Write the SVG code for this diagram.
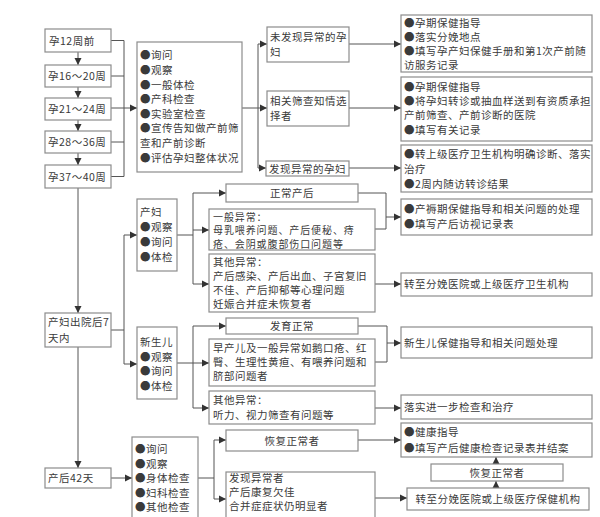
<svg xmlns="http://www.w3.org/2000/svg" width="600" height="517" viewBox="0 0 600 517">
<defs>
<marker id="ah" markerUnits="userSpaceOnUse" markerWidth="8" markerHeight="8" refX="7" refY="4" orient="auto">
<path d="M0,0.5 L7,4 L0,7.5 Z" fill="#333"/>
</marker>
<style>
.b{fill:#fff;stroke:#8c8c8c;stroke-width:1.2}
.t{font-family:"Noto Sans CJK SC","Noto Sans",sans-serif;font-size:10.5px;letter-spacing:0.5px;fill:#3a3a3a}
.s{font-size:10px;letter-spacing:0.9px}
.m{text-anchor:middle}
.c{fill:none;stroke:#555;stroke-width:1}
.a{fill:none;stroke:#555;stroke-width:1;marker-end:url(#ah)}
</style>
</defs>
<rect width="600" height="517" fill="#fff"/>

<g id="connectors">
<path class="a" d="M78,52 V65"/>
<path class="a" d="M78,87 V98"/>
<path class="a" d="M78,120 V131"/>
<path class="a" d="M78,153 V165"/>
<path class="a" d="M78,188 V313"/>
<path class="a" d="M78,347 V468"/>
<path class="c" d="M111,40.5 H124 M111,76 H124 M111,108 H124 M111,142 H124 M111,176.5 H124 M124,40.5 V176.5"/>
<path class="a" d="M124,108 H137"/>
<path class="c" d="M242,108 H258 M258,44 V168"/>
<path class="a" d="M258,44 H267"/>
<path class="a" d="M258,108 H267"/>
<path class="a" d="M258,168 H266"/>
<path class="a" d="M349,44 H401"/>
<path class="a" d="M349,108 H401"/>
<path class="a" d="M349,168 H401"/>
<path class="c" d="M111,330 H124 M124,235 V364"/>
<path class="a" d="M124,235 H137"/>
<path class="a" d="M124,364 H137"/>
<path class="c" d="M177,235 H193 M193,193 V284"/>
<path class="a" d="M193,193 H226"/>
<path class="a" d="M193,230 H209"/>
<path class="a" d="M193,284 H209"/>
<path class="c" d="M358,193 H386 M375,229 H386 M386,193 V229"/>
<path class="a" d="M386,217 H401"/>
<path class="a" d="M375,284 H401"/>
<path class="c" d="M177,363 H193 M193,326 V408"/>
<path class="a" d="M193,326 H226"/>
<path class="a" d="M193,363 H209"/>
<path class="a" d="M193,408 H209"/>
<path class="c" d="M358,326 H387 M375,362 H387 M387,326 V362"/>
<path class="a" d="M387,343 H401"/>
<path class="a" d="M375,408 H401"/>
<path class="a" d="M111,478 H132"/>
<path class="c" d="M198,478 H214 M214,440 V499"/>
<path class="a" d="M214,440 H226"/>
<path class="a" d="M214,499 H226"/>
<path class="a" d="M358,440 H401"/>
<path class="a" d="M375,498 H407"/>
<path class="a" d="M496,488 V481"/>
<path class="a" d="M496,464 V457"/>
</g>

<g id="w12"><rect class="b" x="45" y="29" width="66" height="23"/><text class="t" x="49" y="44.5">孕12周前</text></g>
<g id="w16"><rect class="b" x="45" y="65" width="66" height="22"/><text class="t" x="48" y="80">孕16～20周</text></g>
<g id="w21"><rect class="b" x="45" y="98" width="66" height="22"/><text class="t" x="48" y="113">孕21～24周</text></g>
<g id="w28"><rect class="b" x="45" y="131" width="66" height="22"/><text class="t" x="48" y="146">孕28～36周</text></g>
<g id="w37"><rect class="b" x="45" y="165" width="66" height="23"/><text class="t" x="48" y="180.5">孕37～40周</text></g>

<g id="prenatal-check"><rect class="b" x="137" y="42" width="105" height="130"/>
<text class="t" x="140" y="59">●询问</text>
<text class="t" x="140" y="74">●观察</text>
<text class="t" x="140" y="89">●一般体检</text>
<text class="t" x="140" y="103">●产科检查</text>
<text class="t" x="140" y="117.5">●实验室检查</text>
<text class="t" x="140" y="132">●宣传告知做产前筛</text>
<text class="t" x="140" y="147">查和产前诊断</text>
<text class="t" x="140" y="162">●评估孕妇整体状况</text>
</g>

<g id="normal-preg"><rect class="b" x="267" y="27" width="82" height="35"/><text class="t" x="270" y="41">未发现异常的孕</text><text class="t" x="270" y="56">妇</text></g>
<g id="screen-choice"><rect class="b" x="267" y="91" width="82" height="35"/><text class="t" x="270" y="105">相关筛查知情选</text><text class="t" x="270" y="119.5">择者</text></g>
<g id="abn-preg"><rect class="b" x="266" y="161" width="83" height="15"/><text class="t" x="269" y="172.5">发现异常的孕妇</text></g>

<g id="r1"><rect class="b" x="401" y="15" width="191" height="57"/>
<text class="t" x="404" y="26.5">●孕期保健指导</text>
<text class="t" x="404" y="40.5">●落实分娩地点</text>
<text class="t" x="404" y="55">●填写孕产妇保健手册和第1次产前随</text>
<text class="t" x="404" y="69">访服务记录</text></g>
<g id="r2"><rect class="b" x="401" y="77" width="191" height="64"/>
<text class="t" x="404" y="90.5">●孕期保健指导</text>
<text class="t" x="404" y="104.5">●将孕妇转诊或抽血样送到有资质承担</text>
<text class="t" x="404" y="119">产前筛查、产前诊断的医院</text>
<text class="t" x="404" y="134">●填写有关记录</text></g>
<g id="r3"><rect class="b" x="401" y="145" width="191" height="47"/>
<text class="t" x="404" y="158">●转上级医疗卫生机构明确诊断、落实</text>
<text class="t" x="404" y="172.5">治疗</text>
<text class="t" x="404" y="188">●2周内随访转诊结果</text></g>

<g id="d7"><rect class="b" x="45" y="313" width="66" height="34"/><text class="t" x="48" y="326">产妇出院后7</text><text class="t" x="48" y="342">天内</text></g>

<g id="mother"><rect class="b" x="137" y="199" width="40" height="72"/>
<text class="t" x="140" y="216">产妇</text>
<text class="t" x="140" y="231">●观察</text>
<text class="t" x="140" y="246">●询问</text>
<text class="t" x="140" y="261">●体检</text></g>

<g id="pp-normal"><rect class="b" x="226" y="184" width="132" height="18"/><text class="t m" x="292" y="197">正常产后</text></g>
<g id="pp-general"><rect class="b" x="209" y="209" width="166" height="41"/>
<text class="t s" x="213" y="220.5">一般异常：</text>
<text class="t s" x="213" y="234">母乳喂养问题、产后便秘、痔</text>
<text class="t s" x="213" y="247.5">疮、会阴或腹部伤口问题等</text></g>
<g id="pp-other"><rect class="b" x="209" y="254" width="166" height="58"/>
<text class="t" x="213" y="266">其他异常：</text>
<text class="t" x="213" y="280">产后感染、产后出血、子宫复旧</text>
<text class="t" x="213" y="294">不佳、产后抑郁等心理问题</text>
<text class="t" x="213" y="308">妊娠合并症未恢复者</text></g>

<g id="r4"><rect class="b" x="401" y="199" width="191" height="36"/>
<text class="t" x="404" y="213">●产褥期保健指导和相关问题的处理</text>
<text class="t" x="404" y="228">●填写产后访视记录表</text></g>
<g id="r5"><rect class="b" x="401" y="273" width="191" height="23"/><text class="t" x="404" y="288">转至分娩医院或上级医疗卫生机构</text></g>

<g id="newborn"><rect class="b" x="137" y="327" width="40" height="72"/>
<text class="t" x="140" y="346">新生儿</text>
<text class="t" x="140" y="360.5">●观察</text>
<text class="t" x="140" y="375">●询问</text>
<text class="t" x="140" y="389.5">●体检</text></g>

<g id="nb-normal"><rect class="b" x="226" y="318" width="132" height="16"/><text class="t m" x="292" y="330">发育正常</text></g>
<g id="nb-general"><rect class="b" x="209" y="339" width="166" height="47"/>
<text class="t" x="213" y="352">早产儿及一般异常如鹅口疮、红</text>
<text class="t" x="213" y="366">臀、生理性黄疸、有喂养问题和</text>
<text class="t" x="213" y="380">脐部问题者</text></g>
<g id="nb-other"><rect class="b" x="209" y="391" width="166" height="33"/>
<text class="t" x="213" y="404">其他异常：</text>
<text class="t" x="213" y="418.5">听力、视力筛查有问题等</text></g>

<g id="r6"><rect class="b" x="401" y="327" width="191" height="31"/><text class="t" x="404" y="347">新生儿保健指导和相关问题处理</text></g>
<g id="r7"><rect class="b" x="401" y="395" width="191" height="24"/><text class="t" x="404" y="411">落实进一步检查和治疗</text></g>

<g id="d42"><rect class="b" x="45" y="468" width="66" height="20"/><text class="t" x="48" y="482">产后42天</text></g>
<g id="check42"><rect class="b" x="132" y="437" width="66" height="90"/>
<text class="t" x="135" y="453">●询问</text>
<text class="t" x="135" y="467.5">●观察</text>
<text class="t" x="135" y="482">●身体检查</text>
<text class="t" x="135" y="496.5">●妇科检查</text>
<text class="t" x="135" y="511">●其他检查</text></g>

<g id="rec1"><rect class="b" x="226" y="430" width="132" height="21"/><text class="t m" x="292" y="444.5">恢复正常者</text></g>
<g id="abn42"><rect class="b" x="226" y="472" width="149" height="55"/>
<text class="t" x="229" y="482">发现异常者</text>
<text class="t" x="229" y="496">产后康复欠佳</text>
<text class="t" x="229" y="510">合并症症状仍明显者</text></g>

<g id="r8"><rect class="b" x="401" y="423" width="191" height="34"/>
<text class="t" x="404" y="436">●健康指导</text>
<text class="t" x="404" y="452">●填写产后健康检查记录表并结案</text></g>
<g id="rec2"><rect class="b" x="431" y="464" width="132" height="17"/><text class="t m" x="497" y="476.5">恢复正常者</text></g>
<g id="r9"><rect class="b" x="407" y="488" width="182" height="22"/><text class="t m" x="498" y="503">转至分娩医院或上级医疗保健机构</text></g>
</svg>
